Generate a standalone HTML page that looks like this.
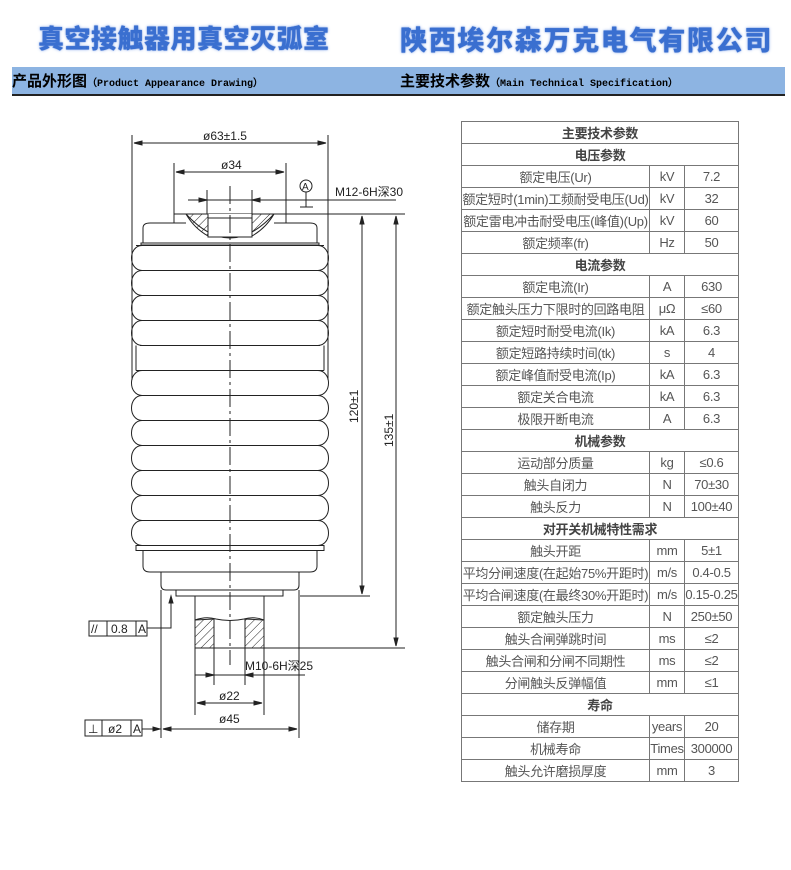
<!DOCTYPE html>
<html><head><meta charset="utf-8"><style>
body{margin:0;background:#fff;width:791px;height:870px;overflow:hidden;position:relative;font-family:"Liberation Sans","Noto Sans CJK SC",sans-serif}
.t1{position:absolute;top:19px;font-size:25px;font-weight:900;color:#3a6fd0;font-family:"Noto Sans CJK SC",sans-serif;text-shadow:0 0 1px #3a6fd0,0 0 3px #9db8ee;white-space:nowrap}
.band{position:absolute;left:12px;top:67px;width:773px;height:27px;background:#8db4e2;border-bottom:2px solid #222}
.band span{position:absolute;top:3px;font-size:15px;font-weight:bold;font-family:"Noto Sans CJK SC",sans-serif}
.band small{font-family:"Liberation Mono",monospace;font-size:10px;font-weight:bold}
table{position:absolute;left:461px;top:121px;border-collapse:collapse;width:278px;font-size:13px;color:#555}
td{border:1px solid #777;height:21px;padding:0;text-align:center;white-space:nowrap;letter-spacing:-0.3px}
td.h{font-weight:bold;color:#444}
</style></head><body>
<div class="t1" style="left:38px;font-size:26px;letter-spacing:0.5px">真空接触器用真空灭弧室</div>
<div class="t1" style="left:400px;font-size:27px;letter-spacing:1.7px">陕西埃尔森万克电气有限公司</div>
<div class="band"><span style="left:0">产品外形图<small>（Product Appearance Drawing）</small></span><span style="left:388px">主要技术参数<small>（Main Technical Specification）</small></span></div>
<svg style="position:absolute;left:0;top:0" width="450" height="870" stroke="#222" fill="none" stroke-width="1" font-family="Liberation Sans" font-size="12">
<defs>
<g id="rib"><path d="M142,-12.5 C128,-12 128,12 142,12.5 M318,-12.5 C332,-12 332,12 318,12.5"/><line x1="140" y1="12.5" x2="320" y2="12.5"/></g>
<pattern id="hat" width="6" height="6" patternUnits="userSpaceOnUse" patternTransform="rotate(45)"><line x1="0" y1="0" x2="0" y2="6"/></pattern>
</defs>
<line x1="132" y1="135" x2="132" y2="380"/><line x1="328" y1="135" x2="328" y2="380"/>
<line x1="134" y1="143" x2="326" y2="143"/><path d="M134,143 l8,-2 v4z M326,143 l-8,-2 v4z" fill="#222"/>
<text x="203" y="140" stroke="none" fill="#222">ø63±1.5</text>
<line x1="174" y1="163" x2="174" y2="223"/><line x1="286" y1="163" x2="286" y2="223"/>
<line x1="176" y1="172" x2="284" y2="172"/><path d="M176,172 l8,-2 v4z M284,172 l-8,-2 v4z" fill="#222"/>
<text x="221" y="169" stroke="none" fill="#222">ø34</text>
<line x1="207" y1="190" x2="207" y2="222"/><line x1="252" y1="190" x2="252" y2="222"/>
<line x1="188" y1="200" x2="396" y2="200"/><path d="M207,200 l-8,-2 v4z M252,200 l8,-2 v4z" fill="#222"/>
<text x="335" y="196" stroke="none" fill="#222">M12-6H深30</text>
<circle cx="306" cy="186" r="6"/><text x="302" y="190" stroke="none" fill="#222" font-size="10">A</text>
<line x1="306" y1="192" x2="306" y2="207"/><line x1="300" y1="207" x2="313" y2="207"/>
<line x1="174" y1="214" x2="405" y2="214"/>
<path d="M143,243 V228 Q143,223 150,223 H186 M274,223 H310 Q317,223 317,228 V243"/>
<path d="M186,214 Q230,262 274,214" fill="#fff"/>
<path d="M186,214 L208,214 L208,236 Q194,228 186,214z M252,214 L274,214 Q266,228 252,236z" fill="url(#hat)"/>
<rect x="208" y="218" width="44" height="19" fill="#fff"/>
<rect x="141" y="243" width="178" height="2"/>
<line x1="136" y1="245.5" x2="324" y2="245.5"/>
<g>
<use href="#rib" y="258"/><use href="#rib" y="283"/><use href="#rib" y="308"/><use href="#rib" y="333"/>
<line x1="136" y1="345.5" x2="136" y2="370.5"/><line x1="324" y1="345.5" x2="324" y2="370.5"/>
<line x1="136" y1="370.5" x2="324" y2="370.5"/>
<use href="#rib" y="383"/><use href="#rib" y="408"/><use href="#rib" y="433"/><use href="#rib" y="458"/><use href="#rib" y="483"/><use href="#rib" y="508"/><use href="#rib" y="533"/>
</g>
<rect x="136" y="545.5" width="188" height="5"/>
<path d="M143,551 V566 Q143,572 150,572 H310 Q317,572 317,566 V551"/>
<path d="M161,572 V585 Q161,590 166,590 H294 Q299,590 299,585 V572"/>
<rect x="176" y="590" width="107" height="6"/>
<line x1="195" y1="596" x2="195" y2="715"/><line x1="264" y1="596" x2="264" y2="715"/>
<path d="M195,620 Q206,616 216,619 Q230,622 244,619 Q254,616 264,620 V648 H195z"/>
<path d="M195,620 L214,619 L214,648 L195,648z M245,619 L264,620 L264,648 L245,648z" fill="url(#hat)"/>
<line x1="214" y1="619" x2="214" y2="685"/><line x1="245" y1="619" x2="245" y2="685"/>
<line x1="195" y1="675" x2="305" y2="675"/><path d="M214,675 l-8,-2 v4z M245,675 l8,-2 v4z" fill="#222"/>
<text x="245" y="670" stroke="none" fill="#222">M10-6H深25</text>
<line x1="197" y1="703" x2="262" y2="703"/><path d="M197,703 l8,-2 v4z M262,703 l-8,-2 v4z" fill="#222"/>
<text x="219" y="700" stroke="none" fill="#222">ø22</text>
<line x1="161" y1="590" x2="161" y2="738"/><line x1="299" y1="590" x2="299" y2="738"/>
<line x1="163" y1="729" x2="297" y2="729"/><path d="M163,729 l8,-2 v4z M297,729 l-8,-2 v4z" fill="#222"/>
<text x="219" y="723" stroke="none" fill="#222">ø45</text>
<line x1="230" y1="186" x2="230" y2="665" stroke-dasharray="18,4,3,4"/>
<line x1="300" y1="596" x2="370" y2="596"/><line x1="264" y1="648" x2="405" y2="648"/>
<line x1="362" y1="216" x2="362" y2="594"/><path d="M362,216 l-2,8 h4z M362,594 l-2,-8 h4z" fill="#222"/>
<line x1="396" y1="216" x2="396" y2="646"/><path d="M396,216 l-2,8 h4z M396,646 l-2,-8 h4z" fill="#222"/>
<text transform="translate(358,423) rotate(-90)" stroke="none" fill="#222">120±1</text>
<text transform="translate(393,447) rotate(-90)" stroke="none" fill="#222">135±1</text>
<rect x="89" y="621" width="58" height="15"/><line x1="107" y1="621" x2="107" y2="636"/><line x1="136" y1="621" x2="136" y2="636"/>
<text x="91" y="633" stroke="none" fill="#222">//</text><text x="111" y="633" stroke="none" fill="#222">0.8</text><text x="138" y="633" stroke="none" fill="#222">A</text>
<path d="M147,628 H171 V596"/><path d="M171,596 l-2,7 h4z" fill="#222"/>
<rect x="85" y="720" width="57" height="16"/><line x1="102" y1="720" x2="102" y2="736"/><line x1="131" y1="720" x2="131" y2="736"/>
<text x="88" y="733" stroke="none" fill="#222">⊥</text><text x="108" y="733" stroke="none" fill="#222">ø2</text><text x="133" y="733" stroke="none" fill="#222">A</text>
<line x1="142" y1="729" x2="160" y2="729"/><path d="M160,729 l-7,-2 v4z" fill="#222"/>
</svg>
<table>
<tr><td colspan="3" class="h">主要技术参数</td></tr>
<tr><td colspan="3" class="h">电压参数</td></tr>
<tr><td style="width:187px">额定电压(Ur)</td><td style="width:34px">kV</td><td>7.2</td></tr>
<tr><td>额定短时(1min)工频耐受电压(Ud)</td><td>kV</td><td>32</td></tr>
<tr><td>额定雷电冲击耐受电压(峰值)(Up)</td><td>kV</td><td>60</td></tr>
<tr><td>额定频率(fr)</td><td>Hz</td><td>50</td></tr>
<tr><td colspan="3" class="h">电流参数</td></tr>
<tr><td>额定电流(Ir)</td><td>A</td><td>630</td></tr>
<tr><td>额定触头压力下限时的回路电阻</td><td>μΩ</td><td>≤60</td></tr>
<tr><td>额定短时耐受电流(Ik)</td><td>kA</td><td>6.3</td></tr>
<tr><td>额定短路持续时间(tk)</td><td>s</td><td>4</td></tr>
<tr><td>额定峰值耐受电流(Ip)</td><td>kA</td><td>6.3</td></tr>
<tr><td>额定关合电流</td><td>kA</td><td>6.3</td></tr>
<tr><td>极限开断电流</td><td>A</td><td>6.3</td></tr>
<tr><td colspan="3" class="h">机械参数</td></tr>
<tr><td>运动部分质量</td><td>kg</td><td>≤0.6</td></tr>
<tr><td>触头自闭力</td><td>N</td><td>70±30</td></tr>
<tr><td>触头反力</td><td>N</td><td>100±40</td></tr>
<tr><td colspan="3" class="h">对开关机械特性需求</td></tr>
<tr><td>触头开距</td><td>mm</td><td>5±1</td></tr>
<tr><td>平均分闸速度(在起始75%开距时)</td><td>m/s</td><td>0.4-0.5</td></tr>
<tr><td>平均合闸速度(在最终30%开距时)</td><td>m/s</td><td>0.15-0.25</td></tr>
<tr><td>额定触头压力</td><td>N</td><td>250±50</td></tr>
<tr><td>触头合闸弹跳时间</td><td>ms</td><td>≤2</td></tr>
<tr><td>触头合闸和分闸不同期性</td><td>ms</td><td>≤2</td></tr>
<tr><td>分闸触头反弹幅值</td><td>mm</td><td>≤1</td></tr>
<tr><td colspan="3" class="h">寿命</td></tr>
<tr><td>储存期</td><td>years</td><td>20</td></tr>
<tr><td>机械寿命</td><td>Times</td><td>300000</td></tr>
<tr><td>触头允许磨损厚度</td><td>mm</td><td>3</td></tr>
</table>
</body></html>
